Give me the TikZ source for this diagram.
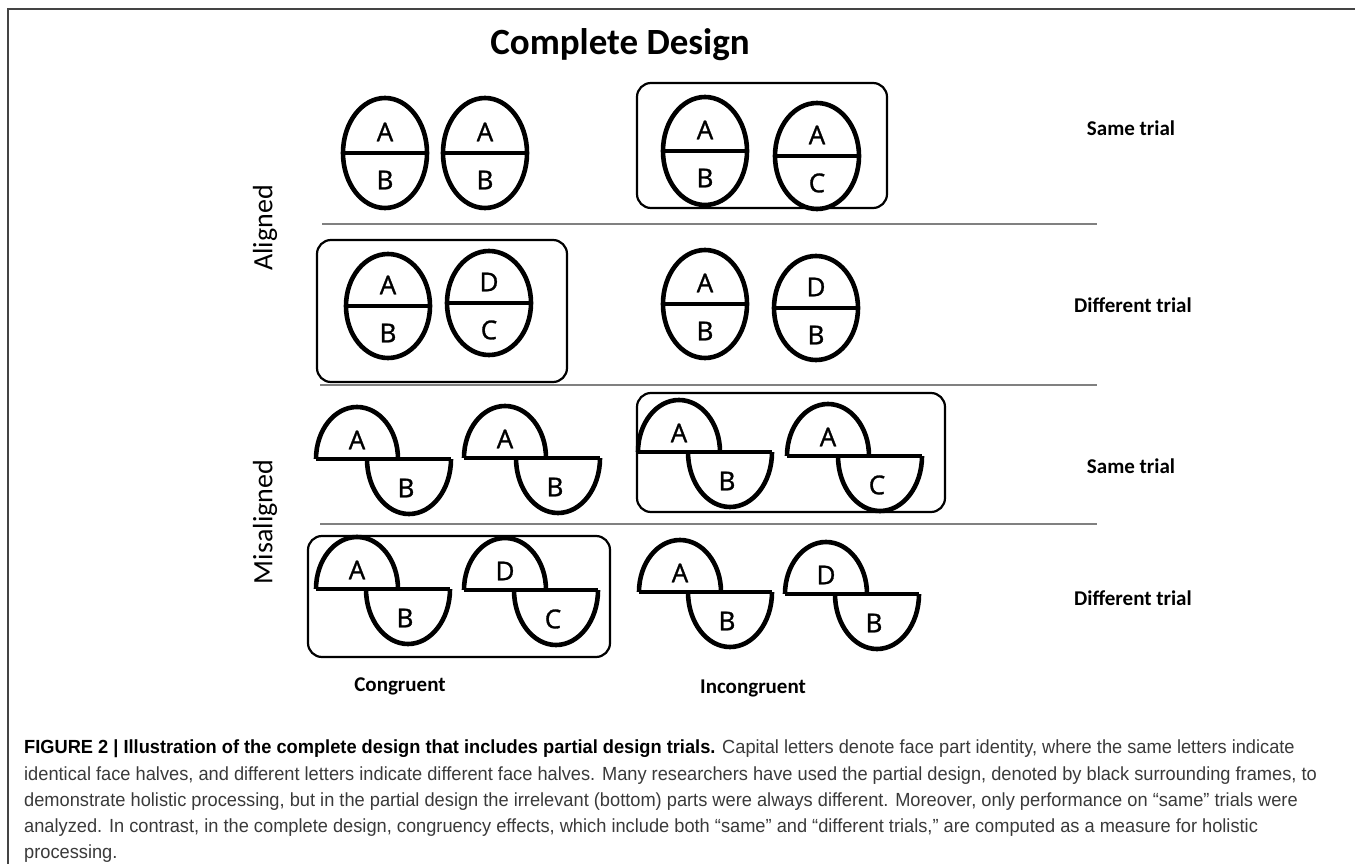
\documentclass[tikz,border=0pt]{standalone}
\usepackage{fontspec}
\setmainfont{Carlito}
\newfontfamily\capfont[FakeStretch=0.96]{Liberation Sans}
\newfontfamily\letfont[FakeBold=1.2]{Open Sans}
\definecolor{capgray}{HTML}{3A3A3A}
\definecolor{sepgray}{HTML}{808080}
\definecolor{framegray}{HTML}{444444}
\tikzset{
  facestroke/.style={line width=4.6pt, black},
  trialbox/.style={line width=2.2pt, black, rounded corners=14pt},
  sepline/.style={line width=1.3pt, sepgray},
  letter/.style={font=\letfont\fontsize{26}{30}\selectfont, inner sep=0pt},
  rowlabel/.style={font=\fontsize{21}{24}\selectfont\bfseries, inner sep=0pt},
  sidelabel/.style={font=\fontsize{28}{32}\selectfont, inner sep=0pt, rotate=90},
  capline/.style={font=\capfont\fontsize{19}{22}\selectfont, text=capgray, inner sep=0pt, anchor=base west},
}
% aligned face: name, cx, cy, ry, top, bottom
\newcommand{\alface}[6]{%
  \draw[facestroke] (#2,#3) ellipse[x radius=42, y radius=#4];
  \draw[facestroke] ({#2-42},#3) -- ({#2+42},#3);
  \node[letter] (#1t) at (#2,{#3-21}) {#5};
  \node[letter] (#1b) at (#2,{#3+27}) {#6};
}
% misaligned face: name, cxTop, base, cxBottom, top, bottom
\newcommand{\misface}[6]{%
  \draw[facestroke] ({#2-41},#3) arc[start angle=180, end angle=360, x radius=41, y radius=52];
  \draw[facestroke] ({#2-41},#3) -- ({#4+42},#3);
  \draw[facestroke] ({#4+42},#3) arc[start angle=0, end angle=180, x radius=42, y radius=55];
  \node[letter] (#1t) at (#2,{#3-19}) {#5};
  \node[letter] (#1b) at ({#4-3},{#3+29}) {#6};
}
\begin{document}
\begin{tikzpicture}[x=1pt,y=-1pt]
\useasboundingbox (0,0) rectangle (1355,864);
\fill[white] (0,0) rectangle (1355,864);
% outer frame (top and left edges visible)
\draw[line width=2pt, framegray] (8,880) -- (8,9) -- (1370,9);
% title
\node[font=\fontsize{37}{42}\selectfont\bfseries, inner sep=0pt] (title) at (620,45) {Complete Design};
% separators
\draw[sepline] (322,224) -- (1097,224);
\draw[sepline] (320,385) -- (1097,385);
\draw[sepline] (320,524) -- (1097,524);
% frames
\draw[trialbox] (637,83) rectangle (887,208);
\draw[trialbox] (317,240) rectangle (567,382);
\draw[trialbox] (637,393) rectangle (945,512);
\draw[trialbox] (308,536) rectangle (610,657);
% row 1
\alface{ra}{385}{153}{55}{A}{B}
\alface{rb}{485}{153}{55}{A}{B}
\alface{rc}{705}{151}{54}{A}{B}
\alface{rd}{817}{156}{53}{A}{C}
% row 2
\alface{sa}{388}{306}{52}{A}{B}
\alface{sb}{489}{303}{52}{D}{C}
\alface{sc}{705}{304}{54}{A}{B}
\alface{sd}{816}{308}{52}{D}{B}
% row 3
\misface{ta}{357}{459}{409}{A}{B}
\misface{tb}{505}{458}{558}{A}{B}
\misface{tc}{679}{452}{730}{A}{B}
\misface{td}{828}{456}{880}{A}{C}
% row 4
\misface{ua}{357}{589}{408}{A}{B}
\misface{ub}{505}{590}{556}{D}{C}
\misface{uc}{680}{592}{730}{A}{B}
\misface{ud}{826}{594}{877}{D}{B}
% right labels
\node[rowlabel] (l1) at (1131,128) {Same trial};
\node[rowlabel] (l2) at (1133,305) {Different trial};
\node[rowlabel] (l3) at (1131,466) {Same trial};
\node[rowlabel] (l4) at (1133,598) {Different trial};
% bottom labels
\node[rowlabel] (cong) at (400,686) {Congruent};
\node[rowlabel] (incong) at (753,688) {Incongruent};
% side labels
\node[sidelabel] (al) at (265,228) {Aligned};
\node[sidelabel] (mis) at (265,522) {Misaligned};
% caption
\node[capline] (c1) at (24,753) {\textcolor{black}{\bfseries FIGURE 2 | Illustration of the complete design that includes partial design trials.} Capital letters denote face part identity, where the same letters indicate};
\node[capline] (c2) at (24,780) {identical face halves, and different letters indicate different face halves. Many researchers have used the partial design, denoted by black surrounding frames, to};
\node[capline] (c3) at (24,806) {demonstrate holistic processing, but in the partial design the irrelevant (bottom) parts were always different. Moreover, only performance on “same” trials were};
\node[capline] (c4) at (24,832) {analyzed. In contrast, in the complete design, congruency effects, which include both “same” and “different trials,” are computed as a measure for holistic};
\node[capline] (c5) at (24,858) {processing.};
\end{tikzpicture}
\end{document}
